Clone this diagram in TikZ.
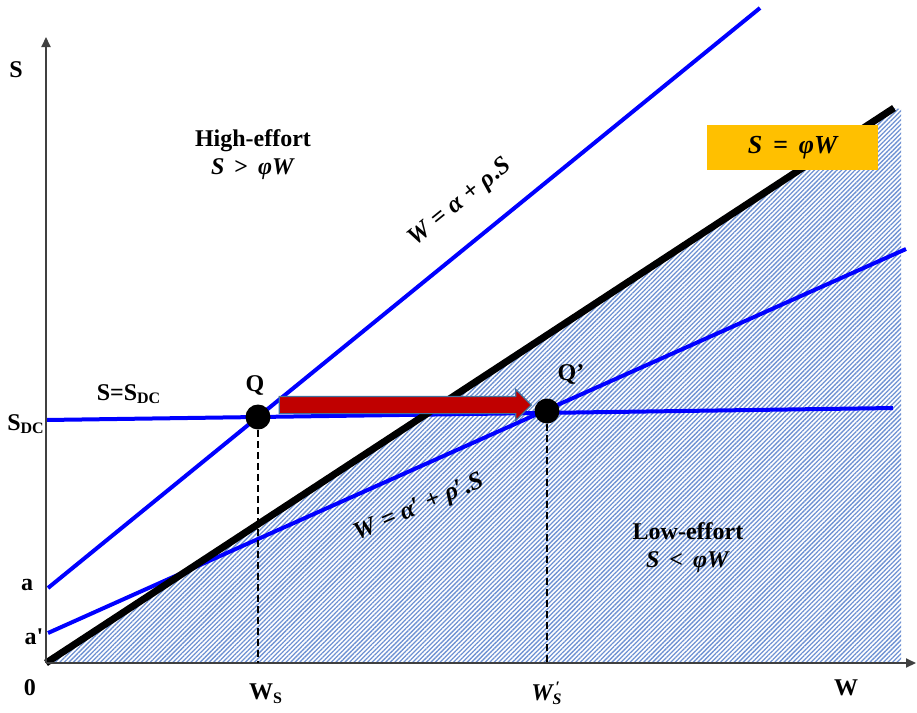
\documentclass[tikz,border=0pt]{standalone}
\usepackage{fontspec}
\setmainfont{Liberation Serif}
\usetikzlibrary{arrows.meta,positioning,patterns.meta,shapes.arrows}
\definecolor{hatchblue}{RGB}{110,145,210}
\definecolor{boxorange}{RGB}{255,192,0}
\definecolor{shiftred}{RGB}{192,0,0}
\definecolor{shiftrim}{RGB}{65,113,156}
\definecolor{axisgray}{RGB}{64,64,64}

\begin{document}
\begin{tikzpicture}[
    x=0.5pt,y=-0.5pt,
    axis/.style={-{Triangle[length=5pt,width=4.5pt]},line width=1pt,axisgray},
    border/.style={line width=3.5pt,black},
    curve/.style={line width=2pt,blue},
    drop/.style={line width=1.2pt,dash pattern=on 3.5pt off 2pt},
    zone/.style={pattern={Lines[angle=45,distance=1.6pt,line width=0.65pt]},pattern color=hatchblue},
    point/.style={circle,fill=black,minimum size=12.5pt,inner sep=0pt},
    lbl/.style={font=\fontsize{12}{14}\selectfont\bfseries,align=center,inner sep=1pt},
    eqn/.style={font=\fontsize{12.5}{14}\selectfont\bfseries,inner sep=1pt}
]
\useasboundingbox (0,0) rectangle (917,713);

\coordinate (O) at (46,663);
\coordinate (ytop) at (46,37);
\coordinate (xend) at (916,663);
\coordinate (phitop) at (894,108);
\coordinate (hatchtop) at (901,109);
\coordinate (hatchbot) at (901,663);
\coordinate (astart) at (48,588);
\coordinate (aend) at (760,8);
\coordinate (bstart) at (48,633);
\coordinate (bend) at (906,249);
\coordinate (dcstart) at (46,420);
\coordinate (dcend) at (893,408);

\fill[zone] (O) -- (phitop) -- (hatchtop) -- (hatchbot) -- cycle;

\draw[curve] (dcstart) -- (dcend);
\draw[curve] (astart) -- (aend);
\draw[curve] (bstart) -- (bend);
\draw[border] (O) -- (phitop);
\draw[axis] (O) -- (ytop);
\draw[axis] (O) -- (xend);

\node[point] (Q) at (258,417) {};
\node[point] (Qp) at (547,411) {};
\draw[drop] (Q.south) -- (Q |- O);
\draw[drop] (Qp.south) -- (Qp |- O);

\node[single arrow,fill=shiftred,draw=shiftrim,line width=0.6pt,minimum height=126pt,
      inner xsep=0pt,inner ysep=4pt,text height=0pt,text depth=0pt,
      single arrow head extend=3.5pt] (shift) at (401,405) {};

\node[lbl] (Qlab) at (255,385) {Q};
\node[lbl] (Qplab) at (571,374) {Q’};
\node[lbl] (Slab) at (16,70) {S};
\node[lbl] (Wlab) at (846,688) {W};
\node[lbl] (zero) at (30,688) {0};
\node[lbl] (alab) at (27,585) {a};
\node[lbl] (aplab) at (34,637) {a\textquotesingle};
\node[lbl] (sdclab) at (26,424) {S\textsubscript{DC}};
\node[lbl] (dcline) at (129,394) {S=S\textsubscript{DC}};
\node[lbl] (wslab) at (266,694) {W\textsubscript{S}};
\node[lbl] (wsplab) at (547,693) {\textit{W\rlap{\textsuperscript{\,′}}\textsubscript{S}}};

\node[lbl] (high) at (253,155) {High-effort\\\textit{S}\, >\, \textit{φW}};
\node[lbl] (low) at (688,548) {Low-effort\\\textit{S}\, <\, \textit{φW}};

\node[eqn,rotate=39] (aeq) at (460,203) {\textit{W} = \textit{α} + \textit{ρ}.\textit{S}};
\node[eqn,rotate=23] (beq) at (419,508) {\textit{W} = \textit{α}′ + \textit{ρ}′.\textit{S}};

\node[fill=boxorange,minimum width=85.5pt,minimum height=22.5pt,
      font=\fontsize{13}{15}\selectfont\bfseries\itshape] (phibox) at (792.5,147.5) {S\, =\, φW};
\end{tikzpicture}
\end{document}
